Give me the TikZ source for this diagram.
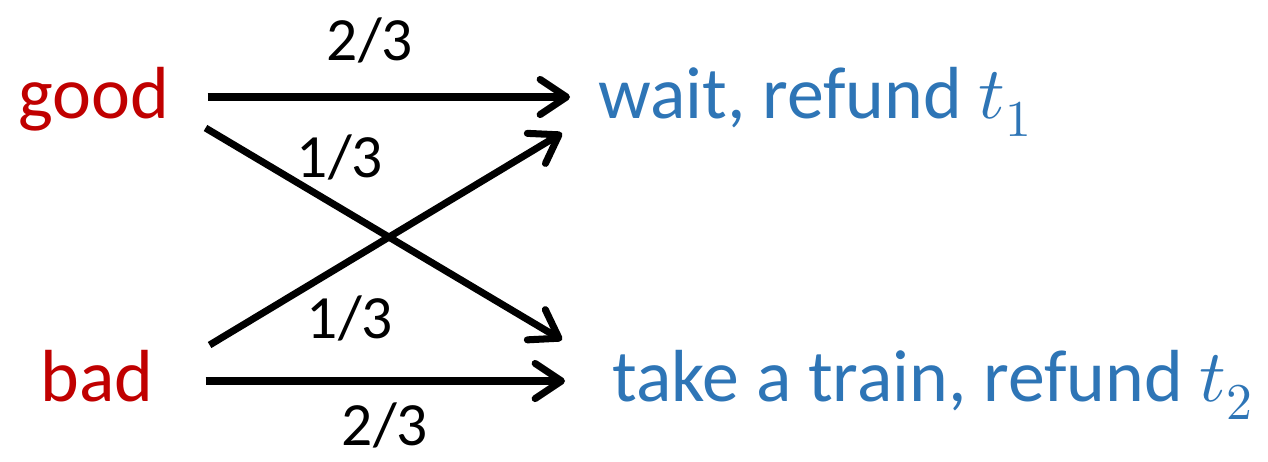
\documentclass[tikz,border=0pt]{standalone}
\usepackage{unicode-math}
\setmainfont{Carlito}
\setmathfont{Latin Modern Math}
\usetikzlibrary{arrows.meta}
\definecolor{srcred}{HTML}{C00000}
\definecolor{dstblue}{HTML}{2E75B6}
\tikzset{
  src/.style={text=srcred,inner sep=0pt,anchor=base west,font=\fontsize{42}{50}\selectfont},
  dst/.style={text=dstblue,inner sep=0pt,anchor=base west,font=\fontsize{42}{50}\selectfont},
  prob/.style={inner sep=0pt,font=\fontsize{35}{42}\selectfont},
  arr/.style={line width=4pt,-{Straight Barb[length=15pt,width=20pt,round]}}
}
\begin{document}
\begin{tikzpicture}[x=0.02cm,y=-0.02cm]
\useasboundingbox (0,0) rectangle (1268,461);
\node[src] (good) at (18,118) {good};
\node[src] (bad) at (40,401) {bad};
\node[dst] (wait) at (598,118) {wait, refund $t_1$};
\node[dst] (train) at (612,401) {take a train, refund $t_2$};
\node[prob] (p11) at (370,40) {2/3};
\node[prob] (p12) at (340,157) {1/3};
\node[prob] (p21) at (350,318) {1/3};
\node[prob] (p22) at (385,425) {2/3};
% transitions
\draw[arr] ([shift={(38,-21)}]good.base east) -- ([shift={(-28,-21)}]wait.base west);
\draw[arr] ([shift={(36,10)}]good.base east) -- ([shift={(-50,-61)}]train.base west);
\draw[arr] ([shift={(56,-56)}]bad.base east) -- ([shift={(-36,15)}]wait.base west);
\draw[arr] ([shift={(52,-20)}]bad.base east) -- ([shift={(-47,-20)}]train.base west);
\end{tikzpicture}
\end{document}
